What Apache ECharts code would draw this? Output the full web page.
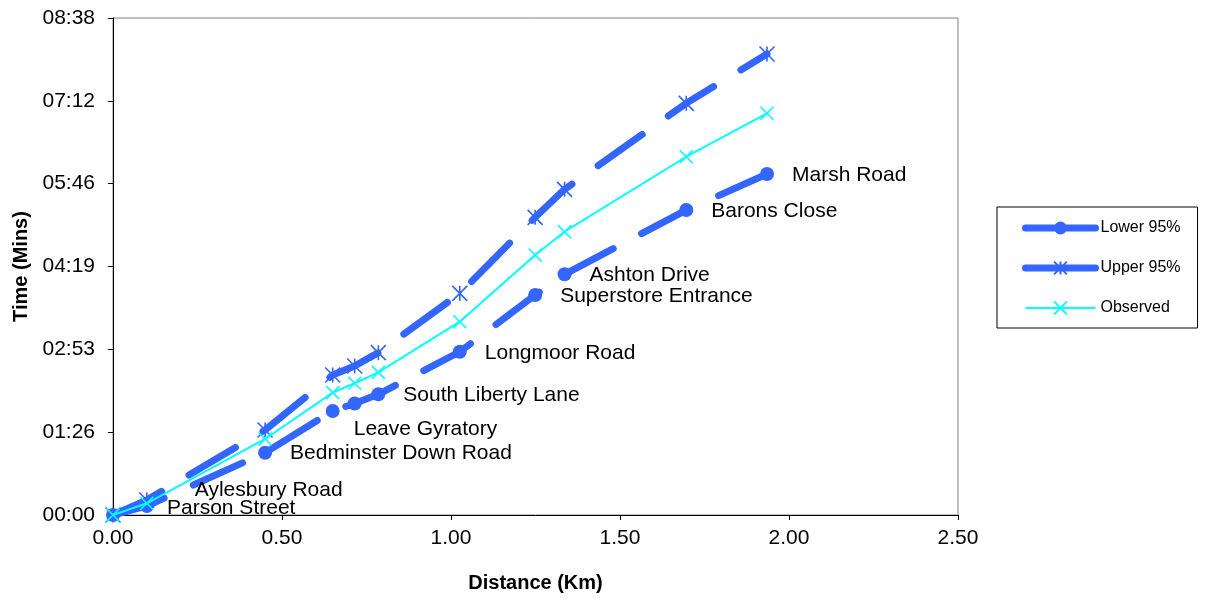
<!DOCTYPE html>
<html>
<head>
<meta charset="utf-8">
<script src="https://cdn.jsdelivr.net/npm/echarts@6/dist/echarts.min.js"></script>
<style>
html,body{margin:0;padding:0;background:#fff;}
#chart{width:1206px;height:601px;}
</style>
</head>
<body>
<div id="chart"></div>
<script>
// Distance along route (km)
const distances = [0, 0.10, 0.45, 0.65, 0.715, 0.785, 1.026, 1.249, 1.336, 1.696, 1.935];
// Times in seconds
const lower95  = [0, 9.4, 65, 108.5, 116.3, 125.9, 170.3, 229.5, 251.1, 318.1, 355.7];
const upper95  = [0, 15.6, 88.7, 146, 155.4, 169.3, 231.2, 310.5, 339.7, 429.4, 480.9];
const observed = [0, 12.2, 79.3, 127.6, 137.4, 148.8, 201.6, 271.2, 295.5, 373.7, 419];
const stopNames = ['Parson Street', 'Aylesbury Road', 'Bedminster Down Road', 'Leave Gyratory', '',
  'South Liberty Lane', 'Longmoor Road', 'Superstore Entrance', 'Ashton Drive', 'Barons Close', 'Marsh Road'];
const seriesNames = ['Lower 95%', 'Upper 95%', 'Observed'];
// y ticks: every 0.001 day (86.4 s) up to 0.006 day
const yMin = 0, yMax = 518.4, yInterval = 86.4;
const xMin = 0, xMax = 2.5, xInterval = 0.5;

const FONT = "'Liberation Sans', Arial, sans-serif";
const BLUE = '#3366FF';
const CYAN = '#00FFFF';

// label placement tweaks (style only)
const labelOffsets = {
  'Parson Street': [29, -7],
  'Aylesbury Road': [23, -16],
  'Leave Gyratory': [-4, 18]
};

function fmtTime(v) {
  const s = Math.round(v);
  const m = Math.floor(s / 60), r = s % 60;
  return String(m).padStart(2, '0') + ':' + String(r).padStart(2, '0');
}

const lowerData = distances.map((d, i) => {
  const item = { value: [d, lower95[i]] };
  if (stopNames[i]) {
    item.label = { show: true, formatter: stopNames[i], offset: labelOffsets[stopNames[i]] || [0, 1] };
  }
  return item;
});
const upperData = distances.map((d, i) => [d, upper95[i]]);
const obsData = distances.map((d, i) => [d, observed[i]]);

const STAR = 'path://M0,0L10,10M10,0L0,10M5,0L5,10';
const CROSS = 'path://M0,0L10,10M10,0L0,10';

const chart = echarts.init(document.getElementById('chart'), null, { renderer: 'canvas' });
chart.setOption({
  animation: false,
  backgroundColor: '#ffffff',
  textStyle: { fontFamily: FONT },
  grid: {
    left: 113, right: 248, top: 18, bottom: 86,
    show: true, borderColor: '#808080', borderWidth: 1, backgroundColor: 'transparent'
  },
  legend: {
    orient: 'vertical',
    left: 997, top: 207,
    padding: [13, 17, 12, 25],
    itemGap: 24,
    itemWidth: 70,
    itemHeight: 16,
    borderColor: '#000', borderWidth: 1,
    lineStyle: { width: 'inherit', type: 'solid' },
    textStyle: { fontFamily: FONT, fontSize: 16, color: '#000' },
    data: seriesNames
  },
  xAxis: {
    type: 'value', min: xMin, max: xMax, interval: xInterval,
    name: 'Distance (Km)', nameLocation: 'middle', nameGap: 58,
    nameTextStyle: { fontFamily: FONT, fontSize: 20, fontWeight: 'bold', color: '#000' },
    axisLine: { show: true, lineStyle: { color: '#000', width: 1 } },
    axisTick: { show: true, inside: false, length: 5, lineStyle: { color: '#000' } },
    axisLabel: { fontFamily: FONT, fontSize: 21, color: '#000', margin: 13, formatter: v => v.toFixed(2) },
    splitLine: { show: false }
  },
  yAxis: {
    type: 'value', min: yMin, max: yMax, interval: yInterval,
    name: 'Time (Mins)', nameLocation: 'middle', nameGap: 80,
    nameTextStyle: { fontFamily: FONT, fontSize: 20, fontWeight: 'bold', color: '#000' },
    axisLine: { show: true, lineStyle: { color: '#000', width: 1 } },
    axisTick: { show: true, inside: false, length: 5, lineStyle: { color: '#000' } },
    axisLabel: { fontFamily: FONT, fontSize: 21, color: '#000', margin: 18, formatter: fmtTime },
    splitLine: { show: false }
  },
  series: [
    {
      name: seriesNames[0], type: 'line', data: lowerData,
      symbol: 'circle', symbolSize: 14, showAllSymbol: true,
      itemStyle: { color: BLUE },
      lineStyle: { color: BLUE, width: 7, type: [54, 32], cap: 'round' },
      label: { show: false, position: 'right', distance: 18, fontFamily: FONT, fontSize: 21, color: '#000' },
      z: 2
    },
    {
      name: seriesNames[1], type: 'line', data: upperData,
      symbol: STAR, symbolSize: 15, showAllSymbol: true,
      itemStyle: { color: BLUE, borderColor: BLUE, borderWidth: 1.6 },
      lineStyle: { color: BLUE, width: 7, type: [54, 32], cap: 'round' },
      z: 3
    },
    {
      name: seriesNames[2], type: 'line', data: obsData,
      symbol: CROSS, symbolSize: 13, showAllSymbol: true,
      itemStyle: { color: CYAN, borderColor: CYAN, borderWidth: 1.6 },
      lineStyle: { color: CYAN, width: 2 },
      z: 4
    }
  ]
});
</script>
</body>
</html>
